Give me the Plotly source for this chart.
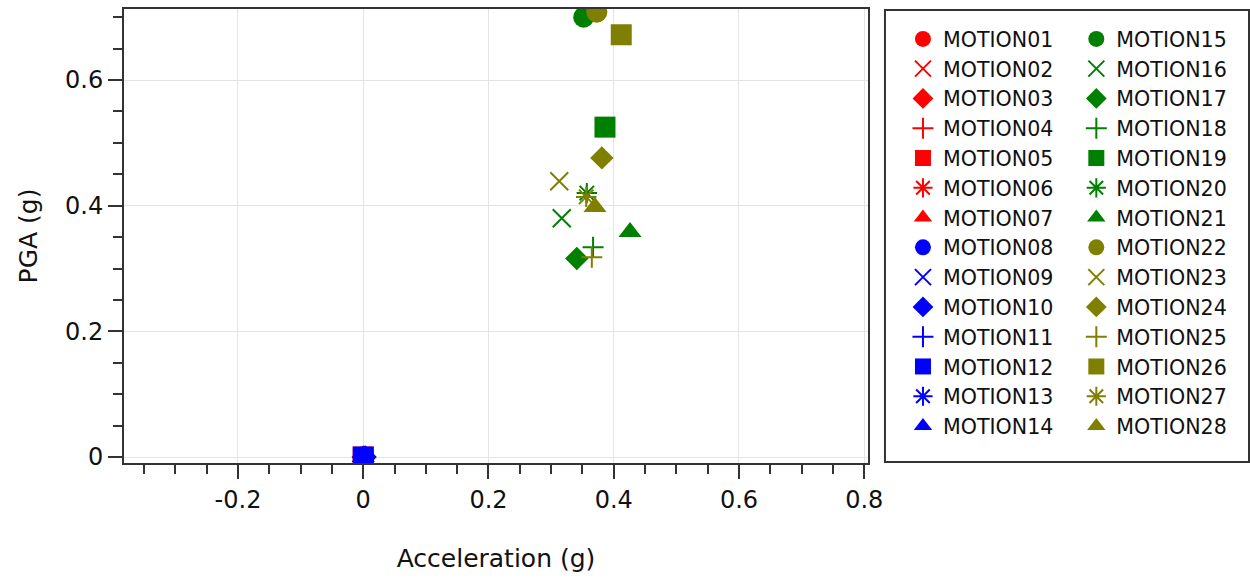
import plotly.graph_objects as go

# ---------------- data ----------------
motion_names = [
    "MOTION01", "MOTION02", "MOTION03", "MOTION04", "MOTION05", "MOTION06", "MOTION07",
    "MOTION08", "MOTION09", "MOTION10", "MOTION11", "MOTION12", "MOTION13", "MOTION14",
    "MOTION15", "MOTION16", "MOTION17", "MOTION18", "MOTION19", "MOTION20", "MOTION21",
    "MOTION22", "MOTION23", "MOTION24", "MOTION25", "MOTION26", "MOTION27", "MOTION28",
]
acceleration_g = [
    0.0, 0.0, 0.0, 0.0, 0.0, 0.0, 0.0,
    0.0, 0.0, 0.003, 0.0, 0.0, 0.0, 0.0,
    0.352, 0.317, 0.341, 0.367, 0.386, 0.357, 0.426,
    0.373, 0.313, 0.381, 0.365, 0.412, 0.356, 0.370,
]
pga_g = [
    0.0, 0.0, 0.0, 0.0, 0.0, 0.0, 0.0,
    0.0, 0.0, 0.0, 0.0, 0.0, 0.0, 0.0,
    0.700, 0.380, 0.316, 0.334, 0.525, 0.420, 0.358,
    0.708, 0.439, 0.476, 0.318, 0.672, 0.414, 0.398,
]
group_colors = ["#FF0000", "#0000FF", "#008000", "#808000"]
group_symbols = ["circle", "x-thin-open", "diamond", "cross-thin-open",
                 "square", "asterisk-open", "triangle-up"]
symbol_sizes = {"circle": 21, "x-thin-open": 18, "diamond": 18, "cross-thin-open": 15,
                "square": 21, "asterisk-open": 17, "triangle-up": 20}

x_tick_vals = [-0.2, 0, 0.2, 0.4, 0.6, 0.8]
x_tick_text = ["-0.2", "0", "0.2", "0.4", "0.6", "0.8"]
y_tick_vals = [0, 0.2, 0.4, 0.6]
y_tick_text = ["0", "0.2", "0.4", "0.6"]

# ---------------- figure ----------------
FONT = "DejaVu Sans, Verdana, Arial, sans-serif"
AX_COLOR = "#333333"
TXT = "#111111"

fig = go.Figure()
for i, name in enumerate(motion_names):
    color = group_colors[i // 7]
    sym = group_symbols[i % 7]
    fig.add_trace(go.Scatter(
        x=[acceleration_g[i]], y=[pga_g[i]],
        mode="markers", name=name,
        legend="legend" if i < 14 else "legend2",
        marker=dict(symbol=sym, size=symbol_sizes[sym], color=color,
                    line=dict(color=color, width=2 if "open" in sym else 0)),
    ))

axis_common = dict(
    showline=True, linecolor=AX_COLOR, linewidth=2, mirror=True,
    ticks="outside", ticklen=14, tickwidth=2, tickcolor=AX_COLOR,
    showgrid=True, gridcolor="#e3e3e3", gridwidth=1, zeroline=False,
    tickmode="array",
    tickfont=dict(family=FONT, size=24, color=TXT),
    minor=dict(ticks="outside", ticklen=9, tickwidth=2, tickcolor=AX_COLOR,
               dtick=0.05, tick0=0, showgrid=False),
)

fig.update_xaxes(axis_common, range=[-0.382, 0.806],
                 tickvals=x_tick_vals, ticktext=x_tick_text,
                 title=dict(text="Acceleration (g)", standoff=37,
                            font=dict(family=FONT, size=25, color=TXT)))
fig.update_yaxes(axis_common, range=[-0.0095, 0.713],
                 tickvals=y_tick_vals, ticktext=y_tick_text,
                 title=dict(text="PGA (g)", standoff=20,
                            font=dict(family=FONT, size=25, color=TXT)))

legend_common = dict(
    xanchor="left", yanchor="top", y=0.978,
    bgcolor="rgba(0,0,0,0)", borderwidth=0,
    font=dict(family=FONT, size=20.6, color=TXT),
    itemclick=False, itemdoubleclick=False,
)
fig.update_layout(
    width=1250, height=579,
    margin=dict(l=124, r=382, t=9, b=116, autoexpand=False),
    plot_bgcolor="white", paper_bgcolor="white",
    showlegend=True,
    legend=dict(legend_common, x=1.047),
    legend2=dict(legend_common, x=1.280),
    shapes=[dict(type="rect", xref="paper", yref="paper",
                 x0=1.0228, x1=1.5121, y0=0.0022, y1=0.9978,
                 line=dict(color=AX_COLOR, width=2), fillcolor="rgba(0,0,0,0)")],
)

fig.write_html("out.html", config={"displayModeBar": False},
               post_script="document.body.style.margin='0';")
